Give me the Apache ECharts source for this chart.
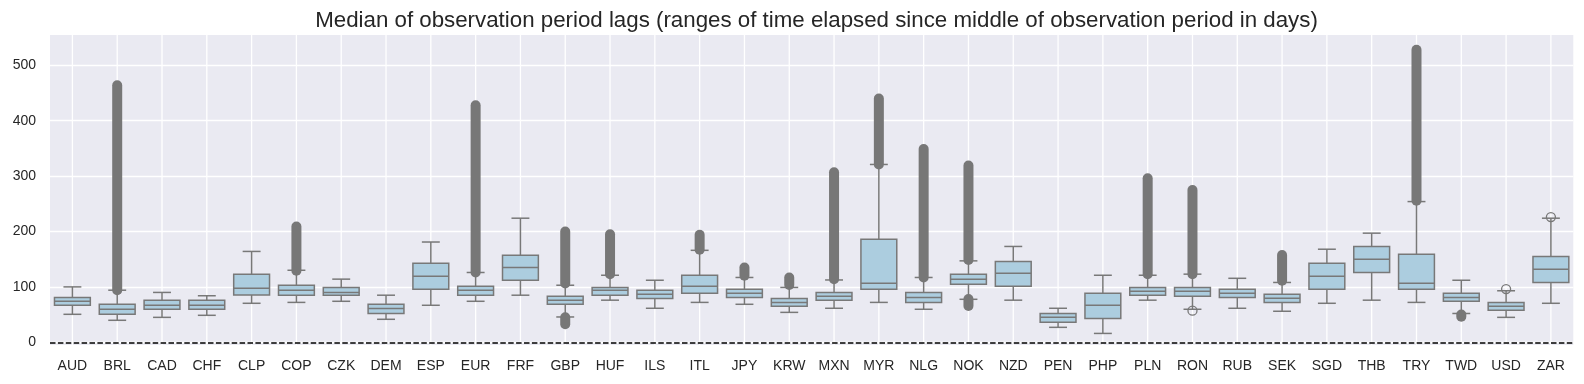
<!DOCTYPE html>
<html>
<head>
<meta charset="utf-8">
<script src="https://cdn.jsdelivr.net/npm/echarts@6/dist/echarts.min.js"></script>
<style>
  html, body { margin: 0; padding: 0; background: #ffffff; }
  #chart { width: 1584px; height: 384px; }
</style>
</head>
<body>
<div id="chart"></div>
<script>
// ---- data ----
const categories = ['AUD','BRL','CAD','CHF','CLP','COP','CZK','DEM','ESP','EUR','FRF','GBP','HUF','ILS','ITL','JPY','KRW','MXN','MYR','NLG','NOK','NZD','PEN','PHP','PLN','RON','RUB','SEK','SGD','THB','TRY','TWD','USD','ZAR'];
const whiskerLow  = [50.5, 39.7, 45, 48.7, 70.4, 72, 74, 41.5, 66.8, 74, 85, 45.7, 76, 61.4, 72, 68.6, 54, 61.4, 72, 59.6, 77.6, 76, 27, 16, 76, 59.6, 61.4, 56, 70.4, 76, 72, 52, 45, 70.4];
const quartile1   = [67, 50.5, 59.6, 59.6, 85.4, 85, 85, 52, 95.7, 85, 112, 68.6, 85, 79, 88.4, 81, 65, 76, 95.7, 72, 104.7, 101, 36, 43, 85, 83, 81, 72, 95.7, 126, 95.7, 74, 57.8, 108];
const median      = [74, 59.6, 67, 67, 97.5, 94, 90, 61, 119, 94, 135, 76, 94, 86.6, 101, 88.4, 72, 83, 106.5, 81, 114, 124.5, 45, 66.8, 92, 92, 88.4, 79.4, 119, 150, 106.5, 81, 65, 132];
const quartile3   = [81, 68.6, 76, 76, 123, 103, 99, 68.6, 142.6, 101, 157, 83, 99, 94, 121, 95.7, 79, 90, 186, 90, 123, 146, 52, 88.4, 99, 99, 95.7, 86.6, 142.6, 173, 159, 88.4, 72, 155];
const whiskerHigh = [100, 94, 90, 84, 164, 130, 114, 85, 181, 126, 224, 103, 121, 112, 166, 117, 99, 112.5, 321, 117, 147, 173, 61.4, 121, 121, 123, 115.5, 108, 168, 197, 254, 112, 93, 224];

// dense runs of outliers (drawn as overlapping markers): category, lowest, highest
const flierRunCategory = ['BRL','COP','EUR','GBP','GBP','HUF','ITL','JPY','KRW','MXN','MYR','NLG','NOK','NOK','PLN','RON','SEK','TRY','TWD'];
const flierRunLow      = [94, 129, 126, 106, 32.5, 123, 167, 120, 103.5, 114, 321, 117, 148.6, 65.6, 123, 123, 111, 255.7, 46];
const flierRunHigh     = [464, 209, 428, 200, 45, 195, 194, 135, 117, 307, 440, 349, 319, 78, 296, 275, 157.6, 528, 50];

// isolated outliers
const flierCategory = ['RON','USD','ZAR'];
const flierValue    = [57, 96, 226];

const yTicks = [0, 100, 200, 300, 400, 500];

// ---- styles ----
const BOX_FILL = '#accddf';
const LINE = '#787878';
const FLIER = '#777777';
const TEXT = '#262626';
const FONT = '"Liberation Sans", Arial, sans-serif';

const boxData = categories.map((c, i) => [i, whiskerLow[i], quartile1[i], median[i], quartile3[i], whiskerHigh[i]]);
const runData = flierRunCategory.map((c, k) => [categories.indexOf(c), flierRunLow[k], flierRunHigh[k]]);
const flierData = flierCategory.map((c, k) => [categories.indexOf(c), flierValue[k]]);
const gridData = categories.map((c, i) => [i, 0]);

function renderBox(params, api) {
  const i = api.value(0);
  const lo = api.coord([i, api.value(1)]);
  const q1 = api.coord([i, api.value(2)]);
  const md = api.coord([i, api.value(3)]);
  const q3 = api.coord([i, api.value(4)]);
  const hi = api.coord([i, api.value(5)]);
  const band = api.size([1, 0])[0];
  const hw = band * 0.4, cw = band * 0.2;
  const x = lo[0];
  const st = { stroke: LINE, lineWidth: 1.5, fill: null };
  return {
    type: 'group',
    children: [
      { type: 'line', shape: { x1: x, y1: q3[1], x2: x, y2: hi[1] }, style: st },
      { type: 'line', shape: { x1: x, y1: q1[1], x2: x, y2: lo[1] }, style: st },
      { type: 'line', shape: { x1: x - cw, y1: hi[1], x2: x + cw, y2: hi[1] }, style: st },
      { type: 'line', shape: { x1: x - cw, y1: lo[1], x2: x + cw, y2: lo[1] }, style: st },
      { type: 'rect', shape: { x: x - hw, y: q3[1], width: 2 * hw, height: q1[1] - q3[1] }, style: { fill: BOX_FILL, stroke: LINE, lineWidth: 1.5 } },
      { type: 'line', shape: { x1: x - hw, y1: md[1], x2: x + hw, y2: md[1] }, style: st }
    ]
  };
}

function renderRun(params, api) {
  const i = api.value(0);
  const a = api.coord([i, api.value(1)]);
  const b = api.coord([i, api.value(2)]);
  return {
    type: 'line',
    shape: { x1: a[0], y1: a[1], x2: b[0], y2: b[1] },
    style: { stroke: FLIER, lineWidth: 10, lineCap: 'round', fill: null }
  };
}

function renderVGrid(params, api) {
  const i = api.value(0);
  const p = api.coord([i, 0]);
  const cs = params.coordSys;
  return {
    type: 'line',
    shape: { x1: p[0], y1: cs.y, x2: p[0], y2: cs.y + cs.height },
    style: { stroke: '#ffffff', lineWidth: 1.3 }
  };
}

const chart = echarts.init(document.getElementById('chart'), null, { renderer: 'canvas' });
chart.setOption({
  animation: false,
  backgroundColor: '#ffffff',
  title: {
    text: 'Median of observation period lags (ranges of time elapsed since middle of observation period in days)',
    left: 811.5,
    textAlign: 'center',
    top: 5,
    textStyle: { fontFamily: FONT, fontSize: 22.3, fontWeight: 'normal', color: TEXT, lineHeight: 22 }
  },
  grid: {
    left: 50, right: 10.7, top: 35, bottom: 39,
    show: true, backgroundColor: '#eaeaf2', borderWidth: 0
  },
  xAxis: {
    type: 'category',
    data: categories,
    boundaryGap: true,
    axisLine: { show: false },
    axisTick: { show: false },
    splitLine: { show: false },
    axisLabel: { fontFamily: FONT, fontSize: 14, color: TEXT, margin: 14, interval: 0 }
  },
  yAxis: {
    type: 'value',
    min: -4.9,
    max: 554.7,
    axisLine: { show: false },
    axisTick: { show: false, customValues: yTicks },
    splitLine: { show: false },
    axisLabel: { fontFamily: FONT, fontSize: 14, color: TEXT, margin: 14, customValues: yTicks }
  },
  series: [
    {
      type: 'custom',
      name: 'grid',
      z: 1,
      silent: true,
      renderItem: renderVGrid,
      data: gridData,
      encode: { x: 0, y: 1 },
      markLine: {
        z: 1,
        silent: true,
        symbol: 'none',
        label: { show: false },
        lineStyle: { color: '#ffffff', width: 1.3, type: 'solid' },
        data: yTicks.map(v => ({ yAxis: v }))
      }
    },
    {
      type: 'custom',
      name: 'boxes',
      z: 3,
      silent: true,
      renderItem: renderBox,
      data: boxData,
      encode: { x: 0, y: [1, 2, 3, 4, 5] },
      markLine: {
        z: 6,
        silent: true,
        symbol: 'none',
        label: { show: false },
        lineStyle: { color: '#000000', width: 1.5, type: [5.5, 2.4] },
        data: [{ yAxis: 0 }]
      }
    },
    {
      type: 'custom',
      name: 'flier runs',
      z: 4,
      silent: true,
      renderItem: renderRun,
      data: runData,
      encode: { x: 0, y: [1, 2] }
    },
    {
      type: 'scatter',
      name: 'fliers',
      z: 5,
      silent: true,
      symbol: 'circle',
      symbolSize: 9,
      itemStyle: { color: 'rgba(0,0,0,0)', borderColor: LINE, borderWidth: 1.3, opacity: 1 },
      data: flierData
    }
  ]
});
</script>
</body>
</html>
